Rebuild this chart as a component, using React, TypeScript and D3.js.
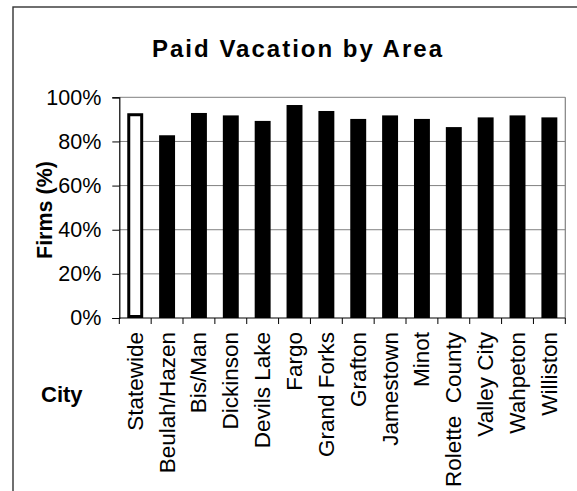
import React, { useEffect, useRef } from 'react'
import * as d3 from 'd3'

const cities = [
  'Statewide', 'Beulah/Hazen', 'Bis/Man', 'Dickinson', 'Devils Lake', 'Fargo', 'Grand Forks',
  'Grafton', 'Jamestown', 'Minot', 'Rolette  County', 'Valley City', 'Wahpeton', 'Williston'
]
const paidVacation = [92.1, 82.8, 92.9, 91.8, 89.3, 96.5, 93.8, 90.2, 91.8, 90.2, 86.5, 90.9, 91.8, 90.9]
const yTicks = [0, 20, 40, 60, 80, 100]

const FONT = '"Liberation Sans", Arial, sans-serif'

export default function App() {
  const ref = useRef<SVGSVGElement>(null)

  useEffect(() => {
    const svg = d3.select(ref.current)
    svg.selectAll('*').remove()

    // plot area
    const left = 119.3, right = 565.3, top = 97.3, bottom = 318

    const x = d3.scaleBand<string>()
      .domain(cities)
      .range([left, right])
      .paddingInner(0.5)
      .paddingOuter(0.25)

    const y = d3.scaleLinear().domain([0, 100]).range([bottom, top])

    // outer frame
    svg.append('rect')
      .attr('x', 13).attr('y', 7)
      .attr('width', 600).attr('height', 520)
      .attr('fill', '#fff')
      .attr('stroke', '#333').attr('stroke-width', 1.4)

    // title
    svg.append('text')
      .attr('x', 152).attr('y', 57)
      .attr('textLength', 290).attr('lengthAdjust', 'spacing')
      .style('font-family', FONT).style('font-size', '24px').style('font-weight', 'bold')
      .text('Paid Vacation by Area')

    // gridlines
    svg.append('g').selectAll('line')
      .data(yTicks.filter(d => d > 0))
      .enter().append('line')
      .attr('x1', left).attr('x2', right)
      .attr('y1', d => y(d)).attr('y2', d => y(d))
      .attr('stroke', '#808080').attr('stroke-width', 1)

    // right border of plot area
    svg.append('line')
      .attr('x1', right).attr('x2', right).attr('y1', top).attr('y2', bottom)
      .attr('stroke', '#808080').attr('stroke-width', 1.2)

    // bars
    const data = cities.map((c, i) => ({ city: c, value: paidVacation[i] }))
    svg.append('g').selectAll('rect')
      .data(data)
      .enter().append('rect')
      .attr('x', (d, i) => i === 0 ? x(d.city)! + 1.5 : x(d.city)!)
      .attr('width', (d, i) => i === 0 ? x.bandwidth() - 3 : x.bandwidth())
      .attr('y', d => y(d.value))
      .attr('height', (d, i) => bottom - y(d.value) - (i === 0 ? 1.5 : 0))
      .attr('fill', (d, i) => i === 0 ? '#fff' : '#000')
      .attr('stroke', '#000')
      .attr('stroke-width', (d, i) => i === 0 ? 3 : 0)

    // y axis
    const yAxis = svg.append('g')
      .attr('transform', 'translate(' + left + ',0)')
      .call(d3.axisLeft(y).tickValues(yTicks).tickSize(7).tickPadding(11).tickFormat(d => d + '%'))
    yAxis.select('.domain').attr('stroke', '#000').attr('stroke-width', 1.2)
    yAxis.selectAll('.tick line').attr('stroke', '#000')
    yAxis.selectAll('text')
      .attr('fill', '#000')
      .style('font-family', FONT).style('font-size', '21.5px')

    // x axis: ticks at category boundaries
    svg.append('line')
      .attr('x1', left).attr('x2', right).attr('y1', bottom).attr('y2', bottom)
      .attr('stroke', '#000').attr('stroke-width', 1.2)
    const bounds = d3.range(cities.length + 1).map(i => left + i * x.step())
    svg.append('g').selectAll('line')
      .data(bounds)
      .enter().append('line')
      .attr('x1', d => d).attr('x2', d => d)
      .attr('y1', bottom).attr('y2', bottom + 6)
      .attr('stroke', '#000')

    // category labels
    svg.append('g').selectAll('text')
      .data(cities)
      .enter().append('text')
      .attr('transform', d => 'translate(' + (x(d)! + x.bandwidth() / 2) + ',332) rotate(-90)')
      .attr('text-anchor', 'end')
      .attr('dy', '0.33em')
      .style('font-family', FONT).style('font-size', '22.5px')
      .style('white-space', 'pre')
      .text(d => d)

    // axis titles
    svg.append('text')
      .attr('transform', 'translate(52,210) rotate(-90)')
      .attr('text-anchor', 'middle')
      .style('font-family', FONT).style('font-size', '21.5px').style('font-weight', 'bold')
      .text('Firms (%)')

    svg.append('text')
      .attr('x', 41).attr('y', 402)
      .style('font-family', FONT).style('font-size', '22px').style('font-weight', 'bold')
      .text('City')
  }, [])

  return (
    <svg ref={ref} width={577} height={491}
      style={{ position: 'absolute', left: 0, top: 0, display: 'block' }} />
  )
}
